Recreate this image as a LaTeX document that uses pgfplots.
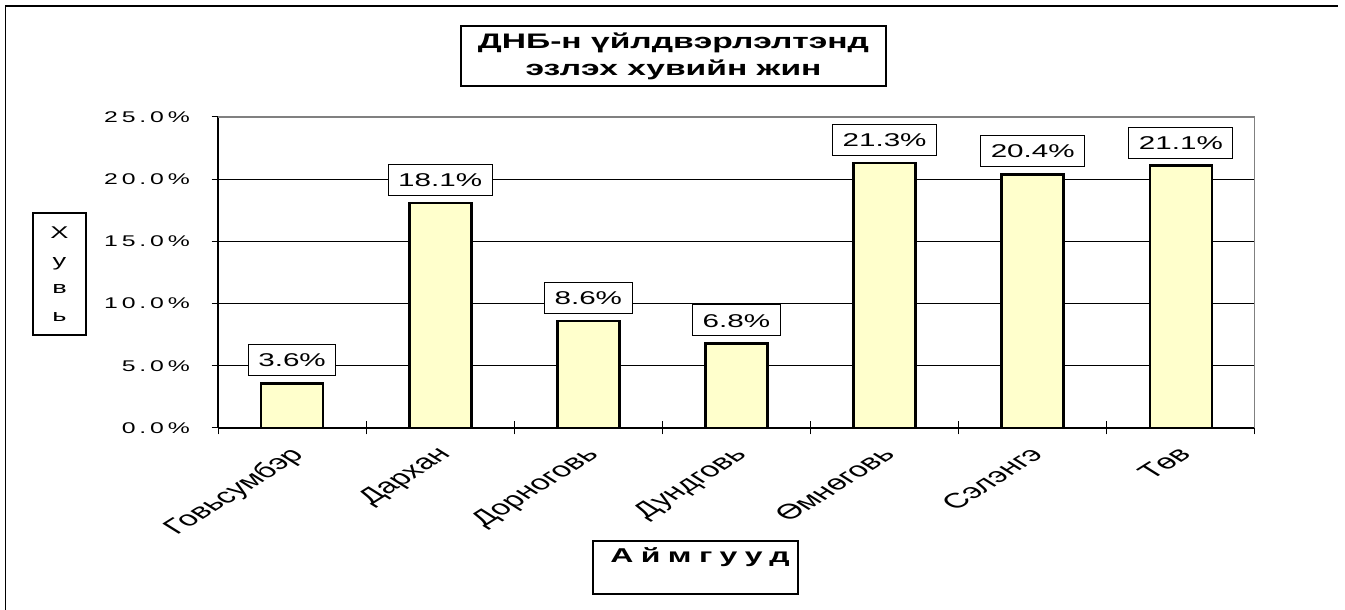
\documentclass[border=0pt]{standalone}
\usepackage{fontspec}
\setmainfont{Liberation Sans}[FakeStretch=1.6]
\newfontfamily\plainfont{Liberation Sans}
\newfontfamily\tickfamily{Liberation Sans}[FakeStretch=1.6,LetterSpace=25]
\newfontfamily\xlabfamily{Liberation Sans}[FakeStretch=1.6,LetterSpace=37]
\usepackage{pgfplots}
\pgfplotsset{compat=1.18}
\definecolor{barfill}{RGB}{255,255,204}
\definecolor{framegray}{RGB}{128,128,128}

\begin{document}
\begin{tikzpicture}[x=1pt,y=1pt]
\path[use as bounding box] (0,0) rectangle (1345,610);
\draw[line width=1.6pt] (5.5,0) -- (5.5,604) -- (1338,604);
\begin{axis}[
  at={(218pt,182pt)}, anchor=south west,
  scale only axis, width=1037pt, height=311pt,
  xmin=-0.5, xmax=6.5, ymin=0, ymax=25,
  axis x line*=bottom, axis y line*=left,
  axis line style={line width=1.3pt, black, -},
  ybar, bar width=62pt,
  ytick={0,5,10,15,20,25},
  yticklabels={0.0\%,5.0\%,10.0\%,15.0\%,20.0\%,25.0\%},
  yticklabel style={font=\tickfamily\fontsize{15.5}{15.5}\selectfont, xshift=-18pt},
  ymajorgrids, major grid style={black, line width=0.9pt},
  tick align=center, major tick length=13pt,
  tick style={black, line width=1pt},
  xtick={-0.5,0.5,1.5,2.5,3.5,4.5,5.5,6.5},
  xticklabels={{},{},{},{},{},{},{},{}},
  extra x ticks={0,1,2,3,4,5,6},
  extra x tick labels={Говьсумбэр,Дархан,Дорноговь,Дундговь,Өмнөговь,Сэлэнгэ,Төв},
  extra x tick style={major tick length=0pt, grid=none},
  xticklabel style={font=\plainfont\fontsize{21}{21}\selectfont,
    xshift=-5pt, yshift=-17pt,
    cm={1.131,0.707,-1.131,0.707,(0,0)}, anchor=north east, inner sep=0pt},
  nodes near coords={\pgfmathprintnumber[fixed,fixed zerofill,precision=1,assume math mode=true]{\pgfplotspointmeta}\%},
  every node near coord/.append style={font=\fontsize{18.5}{18.5}\selectfont,
    draw=black, line width=1pt, fill=white, text=black,
    inner xsep=10pt, inner ysep=0pt, minimum height=31pt,
    text height=13.3pt, text depth=0pt, anchor=south, yshift=7pt},
]
\addplot[fill=barfill, draw=black, line width=2.6pt]
  coordinates {(0,3.6) (1,18.1) (2,8.6) (3,6.8) (4,21.3) (5,20.4) (6,21.1)};
\draw[framegray, line width=1.6pt] (rel axis cs:0,1) -- (rel axis cs:1,1) -- (rel axis cs:1,0);
\end{axis}
% title
\node[draw, line width=1.2pt, minimum width=425pt, minimum height=60pt, align=center,
  font=\bfseries\fontsize{21}{27}\selectfont] at (673.5,554)
  {ДНБ-н үйлдвэрлэлтэнд\\эзлэх хувийн жин};
% y label
\node[draw, line width=1.2pt, minimum width=53pt, minimum height=122pt, align=center,
  font=\fontsize{17}{27.5}\selectfont] at (59.5,336) {Х\\у\\в\\ь};
% x label
\node[draw, line width=1.2pt, minimum width=205pt, minimum height=53pt] at (695.5,42.5) {};
\node[anchor=base, inner sep=0pt, font=\xlabfamily\bfseries\fontsize{20}{20}\selectfont] at (700,47) {Аймгууд};
\end{tikzpicture}
\end{document}
